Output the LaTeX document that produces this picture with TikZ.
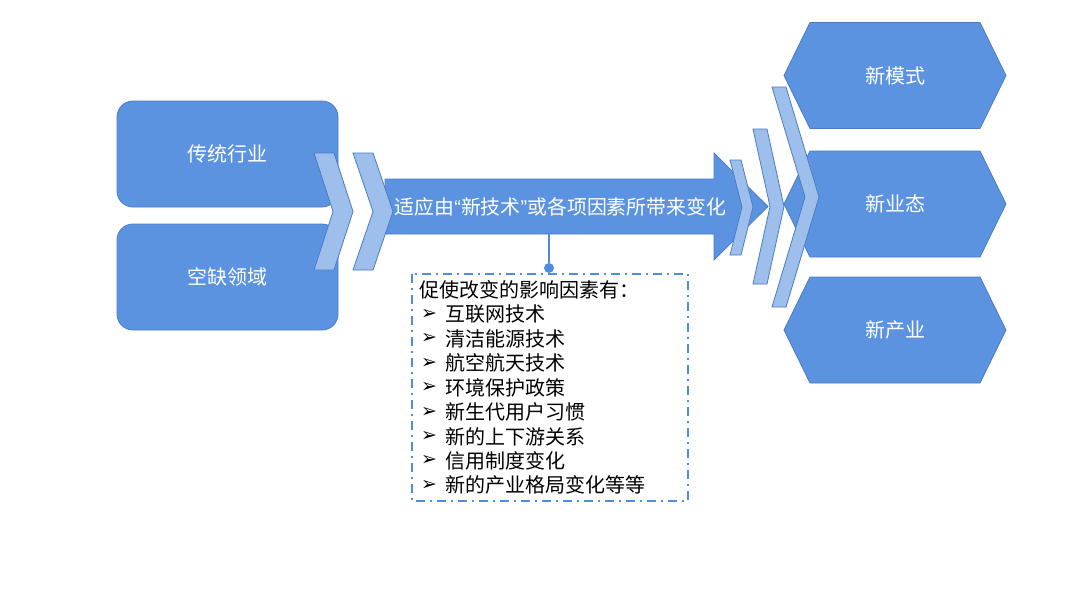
\documentclass[tikz,border=0pt]{standalone}
\usepackage{fontspec}
\setmainfont{Noto Sans CJK SC}
\newfontfamily\symfont{DejaVu Sans}
\newfontfamily\quotefont{Liberation Sans}
\definecolor{mainblue}{HTML}{5B93E0}
\definecolor{lightblue}{HTML}{9EBEEC}
\definecolor{edgeblue}{HTML}{4A7CC6}
\definecolor{dashblue}{HTML}{4F8BE0}
\tikzset{
  bluebox/.style={draw=edgeblue, line width=0.8pt, fill=mainblue, rounded corners=16pt,
    minimum width=221pt, minimum height=106pt, inner sep=0pt, text=white, font=\fontsize{20}{24}\selectfont},
  blueshape/.style={draw=edgeblue, line width=0.8pt, fill=mainblue},
  chevshape/.style={draw=edgeblue, line width=0.8pt, fill=lightblue},
  whitelabel/.style={text=white, font=\fontsize{20}{24}\selectfont, inner sep=0pt},
  listtext/.style={font=\fontsize{20}{24.5}\selectfont, text=black, inner sep=0pt, anchor=west},
  bulletmark/.style={font=\symfont\fontsize{19}{19}\selectfont, inner sep=0pt},
}
\newcommand{\mychev}[6]{% x, w, d, ytop, ybot, ymid
  \path[chevshape] (#1,#4) -- ({#1+#2},#4) -- ({#1+#2+#3},#6) -- ({#1+#2},#5) -- (#1,#5) -- ({#1+#3},#6) -- cycle;}
\newcommand{\myhex}[1]{% ycenter
  \path[blueshape] (784,#1) -- (810,{#1-53}) -- (980,{#1-53}) -- (1006,#1) -- (980,{#1+53}) -- (810,{#1+53}) -- cycle;}
\begin{document}
\begin{tikzpicture}[x=1pt,y=-1pt]
\path[use as bounding box, fill=white] (0,0) rectangle (1080,608);
% left boxes
\node[bluebox] (trad) at (227.5,154) {传统行业};
\node[bluebox] (empty) at (227.5,277) {空缺领域};
% big arrow
\path[blueshape] (385,179) -- (714,179) -- (714,153) -- (768,206.5) -- (714,260) -- (714,234) -- (385,234) -- cycle;
\node[whitelabel, font=\fontsize{19.9}{24}\selectfont] (arrowtext) at (560.5,207) {适应由{\quotefont“}新技术{\quotefont”}或各项因素所带来变化};
\coordinate (arrowbottom) at (549,234);
% left chevrons
\mychev{314}{20}{19}{153}{270}{211.5}
\mychev{353}{20}{20}{153}{270}{211.5}
% hexagons
\myhex{75.5}
\myhex{204}
\myhex{330}
\node[whitelabel] (hmode) at (895,75.5) {新模式};
\node[whitelabel] (hstate) at (895,204) {新业态};
\node[whitelabel] (hind) at (895,330) {新产业};
% right chevrons
\mychev{730}{11}{12}{160}{255}{207}
\mychev{753}{14}{17}{129}{284}{206.5}
\mychev{772}{14}{33}{87}{307}{197}
% connector + dashed box
\draw[dashblue, line width=2pt, dash pattern=on 9pt off 5pt on 2pt off 5pt] (412,274) rectangle (688,501);
\node[circle, fill=dashblue, minimum size=10pt, inner sep=0pt] (dot) at (549,268) {};
\draw[dashblue, line width=1.2pt] (arrowbottom) -- (dot);
\node[listtext] (head) at (419,290) {促使改变的影响因素有：};
\foreach \t [count=\i] in {互联网技术,清洁能源技术,航空航天技术,环境保护政策,新生代用户习惯,新的上下游关系,信用制度变化,新的产业格局变化等等}{
  \node[bulletmark] (b\i) at (429,{290+24.4*\i}) {➢};
  \node[listtext] (l\i) at (445,{290+24.4*\i}) {\t};
}
\end{tikzpicture}
\end{document}
